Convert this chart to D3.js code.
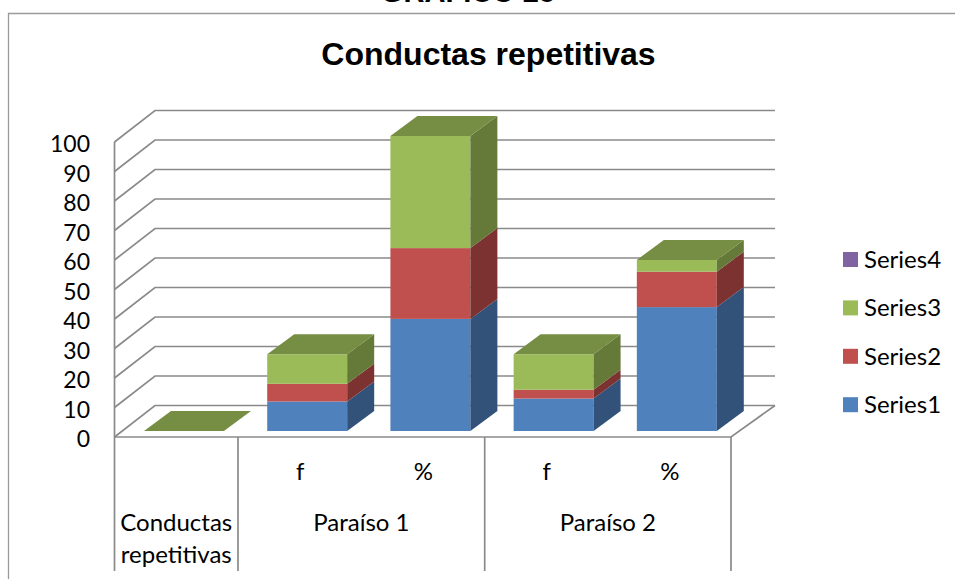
<!DOCTYPE html>
<html><head><meta charset="utf-8">
<script src="https://cdnjs.cloudflare.com/ajax/libs/d3/7.8.5/d3.min.js"></script>
<style>html,body{margin:0;padding:0;background:#fff}svg{display:block}</style>
</head><body><svg id="c" width="955" height="579"></svg>
<script>
const categories = ["", "f", "%", "f", "%"];
const groups = ["Conductas\nrepetitivas", "Paraíso 1", "Paraíso 2"];
const series1 = [0, 10, 38, 11, 42];
const series2 = [0, 6, 24, 3, 12];
const series3 = [0, 10, 38, 12, 4];
const series4 = [0, 0, 0, 0, 0];
const seriesNames = ["Series1", "Series2", "Series3", "Series4"];
const front = ["#4f81bd", "#c0504d", "#9bbb59", "#8064a2"];
const side = ["#32527a", "#7c3230", "#657a39", "#533f6b"];
const topc = ["#3f6797", "#9a403e", "#768e43", "#66507f"];
const yTicks = d3.range(0, 101, 10);

const svg = d3.select("#c");
const dx = 40.5, dy = 31.5;           // wall depth
const bdx = 27, bdy = 20;             // bar depth
const x = d3.scaleBand().domain(d3.range(5)).range([144, 716.8]).paddingInner(0.351).paddingOuter(0);
const y = d3.scaleLinear().domain([0, 100]).range([437, 142]);
const grey = "#8a8a8a";

// outer frame and cut-off heading
svg.append("text").attr("x", 468).attr("y", 2).attr("text-anchor", "middle")
  .attr("font-family", "Liberation Sans").attr("font-weight", "bold").attr("font-size", 29).text("GRÁFICO 25");
svg.append("path").attr("d", "M955,13.5H8.5V579").attr("fill", "none").attr("stroke", "#9a9a9a").attr("stroke-width", 1.3);

svg.append("text").attr("x", 488.5).attr("y", 65).attr("text-anchor", "middle")
  .attr("font-family", "Liberation Sans").attr("font-weight", "bold").attr("font-size", 32).text("Conductas repetitivas");

// walls and gridlines
const grid = svg.append("g").attr("fill", "none").attr("stroke", grey).attr("stroke-width", 1.7);
yTicks.forEach(t => {
  const p = d3.path();
  p.moveTo(114.5, y(t)); p.lineTo(114.5 + dx, y(t) - dy); p.lineTo(775, y(t) - dy);
  grid.append("path").attr("d", p);
});
grid.append("path").attr("d", `M114.5,${y(100)}V${y(0)}`);
grid.append("path").attr("d", `M114.5,${y(0)}H731L775,${y(0) - dy}`);

// axis tick labels
const labelFont = "Lato";
svg.append("g").selectAll("text").data(yTicks).join("text")
  .attr("x", 90).attr("y", d => y(d) + 1).attr("dy", "0.4em").attr("text-anchor", "end")
  .attr("font-family", labelFont).attr("font-size", 23).attr("fill", "#000").text(d => d);

// bars, drawn left to right, stacked bottom to top
const stack = [series1, series2, series3, series4];
const g = svg.append("g");
categories.forEach((c, i) => {
  let base = 0;
  const bx = x(i), w = x.bandwidth();
  stack.forEach((s, k) => {
    const v = s[i];
    const y0 = y(base) - 6, y1 = y(base + v) - 6;
    if (v > 0) {
      g.append("rect").attr("x", bx).attr("y", y1).attr("width", w).attr("height", y0 - y1).attr("fill", front[k]);
      g.append("path").attr("fill", side[k])
        .attr("d", `M${bx + w},${y0}L${bx + w + bdx},${y0 - bdy}V${y1 - bdy}L${bx + w},${y1}Z`);
    }
    base += v;
  });
  const yt = y(base) - 6;
  g.append("path").attr("fill", topc[2])
    .attr("d", `M${bx},${yt}L${bx + bdx},${yt - bdy}H${bx + w + bdx}L${bx + w},${yt}Z`);
});

// multi-level category axis
const sep = [114.5, 238, 484.7, 731];
svg.append("g").selectAll("line").data(sep).join("line")
  .attr("x1", d => d).attr("x2", d => d).attr("y1", y(0)).attr("y2", 571)
  .attr("stroke", grey).attr("stroke-width", 1.7);
svg.append("g").selectAll("text").data(categories).join("text")
  .attr("x", (d, i) => x(i) + x.bandwidth() / 2 - 7).attr("y", 480).attr("text-anchor", "middle")
  .attr("font-family", labelFont).attr("font-size", 24).text(d => d);
const gl = svg.append("g").attr("font-family", labelFont).attr("font-size", 24).attr("text-anchor", "middle");
groups.forEach((t, i) => {
  t.split("\n").forEach((line, j) => {
    gl.append("text").attr("x", (sep[i] + sep[i + 1]) / 2).attr("y", 531 + j * 32).text(line);
  });
});

// legend
const legend = svg.append("g").selectAll("g").data(d3.range(3, -1, -1)).join("g")
  .attr("transform", (d, i) => `translate(843,${252 + i * 48.4})`);
legend.append("rect").attr("width", 15).attr("height", 15).attr("fill", d => front[d]);
legend.append("text").attr("x", 21).attr("y", 16).attr("font-family", labelFont).attr("font-size", 24).text(d => seriesNames[d]);
</script></body></html>
